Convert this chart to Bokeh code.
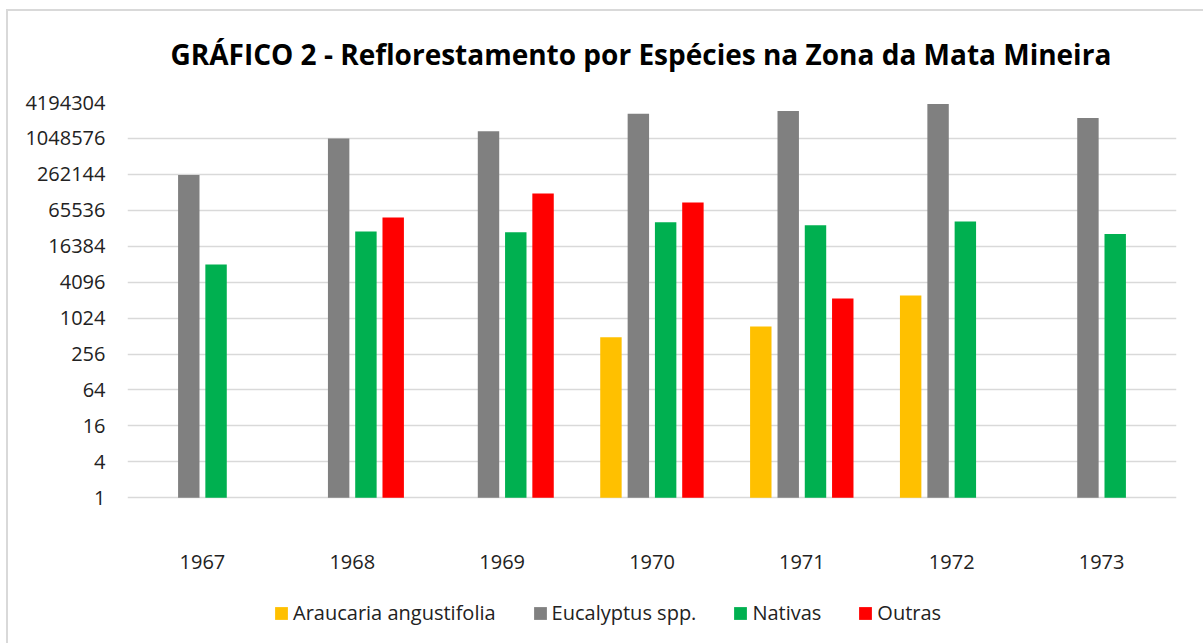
from bokeh.plotting import figure
from bokeh.models import (ColumnDataSource, Range1d, FixedTicker, NumeralTickFormatter,
                          Legend, LegendItem, InlineStyleSheet)
from bokeh.core.properties import value
from bokeh.transform import dodge
from bokeh.embed import file_html
from bokeh.resources import INLINE

# ---- data ----
years = ["1967", "1968", "1969", "1970", "1971", "1972", "1973"]
araucaria = [None, None, None, 490, 740, 2450, None]
eucalyptus = [255000, 1050000, 1385000, 2725000, 3010000, 3960000, 2310000]
nativas = [8070, 28900, 28100, 41500, 36900, 42600, 26200]
outras = [None, 49700, 125700, 88900, 2190, None, None]
series_names = ["Araucaria angustifolia", "Eucalyptus spp.", "Nativas", "Outras"]
y_ticks = [1, 4, 16, 64, 256, 1024, 4096, 16384, 65536, 262144, 1048576, 4194304]

series_values = [araucaria, eucalyptus, nativas, outras]
colors = ["#FFC000", "#808080", "#00B050", "#FF0000"]
offsets = [-0.274, -0.091, 0.091, 0.273]
FONT = "Open Sans"

border_css = InlineStyleSheet(css="""
:host { position: relative; }
:host::after {
  content: ""; position: absolute; left: 6px; top: 9px; right: 0px; bottom: 0px;
  border-top: 2px solid #d9d9d9; border-left: 2px solid #d9d9d9;
  pointer-events: none; box-sizing: border-box;
}
""")

# the frame extends below the value axis to make room for the category labels and legend
p = figure(width=1203, height=643, x_range=years, y_axis_type="log",
           y_range=Range1d(1 / 256, 4194304), output_backend="svg", toolbar_location=None,
           title="GRÁFICO 2 - Reflorestamento por Espécies na Zona da Mata Mineira",
           min_border_left=127, min_border_right=27, min_border_top=102, min_border_bottom=2,
           stylesheets=[border_css])

p.title.text_font = FONT
p.title.text_font_size = "28px"
p.title.text_font_style = "bold"
p.title.text_color = "#000000"
p.title.align = "left"
p.title.offset = 43
p.title.standoff = 60

p.outline_line_color = None
p.background_fill_color = "white"
p.border_fill_color = "white"

items = []
for name, vals, col, off in zip(series_names, series_values, colors, offsets):
    xs = [y for y, v in zip(years, vals) if v is not None]
    ts = [v for v in vals if v is not None]
    src = ColumnDataSource(dict(x=xs, top=ts, bottom=[1] * len(ts)))
    r = p.vbar(x=dodge("x", off, range=p.x_range), top="top", bottom="bottom",
               width=0.143, source=src, fill_color=col, line_color=None)
    items.append(LegendItem(label=name, renderers=[r]))

# category labels below the value axis
lab_src = ColumnDataSource(dict(x=years, y=[0.0825] * len(years), t=years))
p.text(x="x", y="y", text="t", source=lab_src, text_align="center", text_baseline="middle",
       text_font=value(FONT), text_font_size="20px", text_color="#222222")

# y axis
p.yaxis.ticker = FixedTicker(ticks=y_ticks, minor_ticks=[])
p.yaxis.formatter = NumeralTickFormatter(format="0")
p.yaxis.axis_line_color = None
p.yaxis.major_tick_line_color = None
p.yaxis.minor_tick_line_color = None
p.yaxis.major_tick_out = 0
p.yaxis.major_label_standoff = 22
p.yaxis.major_label_text_font = FONT
p.yaxis.major_label_text_font_size = "20px"
p.yaxis.major_label_text_color = "#222222"

p.xaxis.visible = False
p.xgrid.grid_line_color = None
p.ygrid.grid_line_color = "#d9d9d9"
p.ygrid.grid_line_width = 1.3

legend = Legend(items=items, orientation="horizontal", location=(146, 15),
                label_text_font=FONT, label_text_font_size="20px", label_text_color="#222222",
                glyph_width=16, glyph_height=16, label_standoff=4, spacing=36,
                padding=0, margin=0, border_line_color=None, background_fill_alpha=0)
p.add_layout(legend, "center")

open("out.html", "w").write(file_html(p, INLINE))
